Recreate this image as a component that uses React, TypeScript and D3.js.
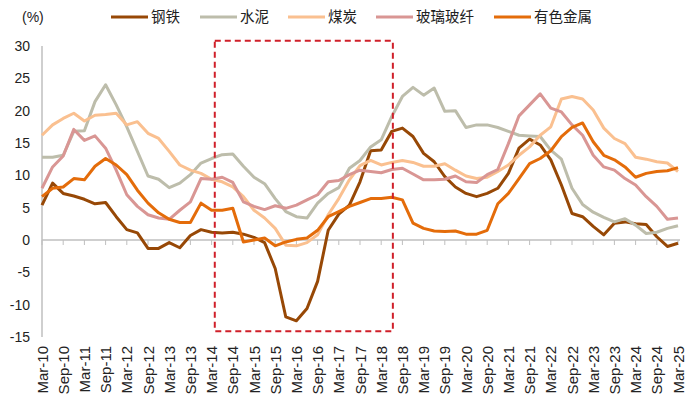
import React from "react";
import * as d3 from "d3";

// quarterly, Mar-10 .. Mar-25
const steel = [5.4, 8.8, 7.2, 6.8, 6.3, 5.6, 5.8, 3.6, 1.6, 1.1, -1.3, -1.3, -0.4, -1.2, 0.7, 1.6,
  1.2, 1.1, 1.2, 0.9, 0.4, -0.4, -4.4, -11.9, -12.5, -10.6, -6.4, 1.5, 4.0, 5.4, 9.0, 13.8,
  13.9, 16.8, 17.3, 16.0, 13.4, 12.1, 9.8, 8.2, 7.2, 6.7, 7.2, 8.0, 10.3, 14.2, 15.6, 14.7,
  12.4, 8.5, 4.1, 3.6, 2.1, 0.8, 2.6, 2.8, 2.5, 2.4, 0.5, -1.0, -0.5];
const cement = [12.8, 12.8, 13.1, 16.8, 16.9, 21.4, 24.0, 20.9, 17.5, 13.7, 9.9, 9.4, 8.1, 8.8, 10.1, 11.9,
  12.6, 13.2, 13.3, 11.4, 9.7, 8.7, 6.4, 4.4, 3.6, 3.4, 5.7, 7.2, 8.1, 11.1, 12.3, 14.4,
  15.5, 19.1, 22.2, 23.6, 22.4, 23.5, 19.9, 20.0, 17.4, 17.8, 17.8, 17.4, 16.8, 16.2, 16.1, 16.0,
  13.9, 12.5, 8.0, 5.5, 4.3, 3.5, 2.8, 3.3, 2.3, 1.0, 1.2, 1.8, 2.2];
const coal = [16.2, 17.8, 18.8, 19.6, 18.4, 19.3, 19.4, 19.6, 17.8, 18.3, 16.5, 15.7, 13.7, 11.6, 10.8, 10.3,
  9.4, 9.0, 8.2, 6.7, 4.6, 3.4, 1.8, -0.8, -0.9, -0.4, 0.8, 3.9, 6.4, 9.3, 11.5, 12.3,
  11.6, 12.0, 12.3, 12.0, 11.4, 11.4, 11.8, 10.8, 9.9, 9.5, 9.7, 10.6, 11.6, 13.1, 14.4, 16.2,
  17.5, 21.8, 22.2, 21.8, 20.1, 17.3, 15.7, 14.9, 12.8, 12.5, 12.1, 11.9, 10.6];
const glass = [8.0, 11.3, 13.0, 17.1, 15.4, 16.1, 14.2, 10.8, 7.0, 5.2, 3.9, 3.4, 3.2, 4.6, 5.9, 9.5,
  9.4, 9.7, 8.9, 5.9, 5.2, 4.7, 5.3, 4.9, 5.4, 6.2, 7.0, 9.0, 9.2, 10.1, 10.8, 10.6,
  10.4, 10.9, 11.1, 10.2, 9.3, 9.3, 9.4, 9.9, 9.0, 8.9, 10.1, 10.9, 14.9, 19.2, 20.9, 22.6,
  20.4, 19.8, 17.8, 16.2, 13.1, 11.3, 10.8, 9.5, 8.5, 6.7, 5.2, 3.2, 3.4];
const nonferrous = [6.7, 8.0, 8.2, 9.5, 9.3, 11.4, 12.6, 11.6, 10.1, 7.7, 5.7, 4.2, 3.2, 2.7, 2.7, 5.7,
  4.6, 4.6, 4.9, -0.3, 0.0, 0.3, -0.9, -0.3, 0.1, 0.3, 1.5, 3.6, 4.4, 5.2, 5.8, 6.4,
  6.4, 6.6, 6.2, 2.6, 1.8, 1.4, 1.3, 1.4, 0.9, 0.9, 1.5, 5.6, 7.2, 9.5, 11.8, 12.6,
  13.8, 16.0, 17.4, 18.1, 15.2, 13.1, 12.4, 11.3, 9.7, 10.3, 10.6, 10.7, 11.2];

const tickLabels = ["Mar-10", "Sep-10", "Mar-11", "Sep-11", "Mar-12", "Sep-12", "Mar-13", "Sep-13",
  "Mar-14", "Sep-14", "Mar-15", "Sep-15", "Mar-16", "Sep-16", "Mar-17", "Sep-17", "Mar-18",
  "Sep-18", "Mar-19", "Sep-19", "Mar-20", "Sep-20", "Mar-21", "Sep-21", "Mar-22", "Sep-22",
  "Mar-23", "Sep-23", "Mar-24", "Sep-24", "Mar-25"];
const yTicks = [-15, -10, -5, 0, 5, 10, 15, 20, 25, 30];

const seriesNames = ["钢铁", "水泥", "煤炭", "玻璃玻纤", "有色金属"];
const seriesColors = ["#974806", "#BDBDAB", "#FAC090", "#D99694", "#E46C0A"];
const seriesData = [steel, cement, coal, glass, nonferrous];

// highlighted window, in quarter index / value
const boxX = [16.3, 33.1];
const boxY = [-14.1, 30.8];

const W = 700, H = 402;
const latin = "'Liberation Sans', Arial, sans-serif";
const cjk = "'Liberation Sans', 'Noto Sans CJK SC', sans-serif";

export default function App() {
  const x = d3.scaleLinear().domain([0, 60]).range([42, 678]);
  const y = d3.scaleLinear().domain([-15, 30]).range([337, 46]);
  const line = d3.line<number>().x((_, i) => x(i)).y((d) => y(d));

  const legendX = [111, 200, 288, 376, 494];

  return (
    <svg width={W} height={H} style={{ position: "absolute", left: 0, top: 0 }}>
      <rect width={W} height={H} fill="#fff" />
      <text x={22} y={22} fontSize={14} fontFamily={latin} fill="#222">(%)</text>

      {seriesNames.map((n, i) => (
        <g key={n}>
          <line x1={legendX[i]} x2={legendX[i] + 37} y1={17} y2={17} stroke={seriesColors[i]} strokeWidth={3} />
          <text x={legendX[i] + 40} y={22} fontSize={14.5} fontFamily={cjk} fill="#222">{n}</text>
        </g>
      ))}

      {/* y axis */}
      <line x1={x(0)} x2={x(0)} y1={y(30)} y2={y(-15)} stroke="#BFBFBF" strokeWidth={1.5} />
      {yTicks.map((t) => (
        <text key={t} x={30} y={y(t) + 5} textAnchor="end" fontSize={14} fontFamily={latin} fill="#222">{t}</text>
      ))}

      {/* x axis at zero */}
      <line x1={x(0)} x2={x(60) + 2} y1={y(0)} y2={y(0)} stroke="#BFBFBF" strokeWidth={1.5} />
      {tickLabels.map((t, k) => (
        <g key={t}>
          <line x1={x(k * 2)} x2={x(k * 2)} y1={y(0)} y2={y(0) + 5} stroke="#BFBFBF" strokeWidth={1} />
          <text
            transform={`translate(${x(k * 2) + 5.5},346) rotate(-90)`}
            textAnchor="end"
            fontSize={15}
            fontFamily={latin}
            fill="#222"
          >
            {t}
          </text>
        </g>
      ))}

      {seriesData.map((s, i) => (
        <path key={i} d={line(s) ?? ""} fill="none" stroke={seriesColors[i]} strokeWidth={3} strokeLinejoin="round" />
      ))}

      <rect
        x={x(boxX[0])}
        y={y(boxY[1])}
        width={x(boxX[1]) - x(boxX[0])}
        height={y(boxY[0]) - y(boxY[1])}
        fill="none"
        stroke="#D0202A"
        strokeWidth={2}
        strokeDasharray="6,4"
      />
    </svg>
  );
}
